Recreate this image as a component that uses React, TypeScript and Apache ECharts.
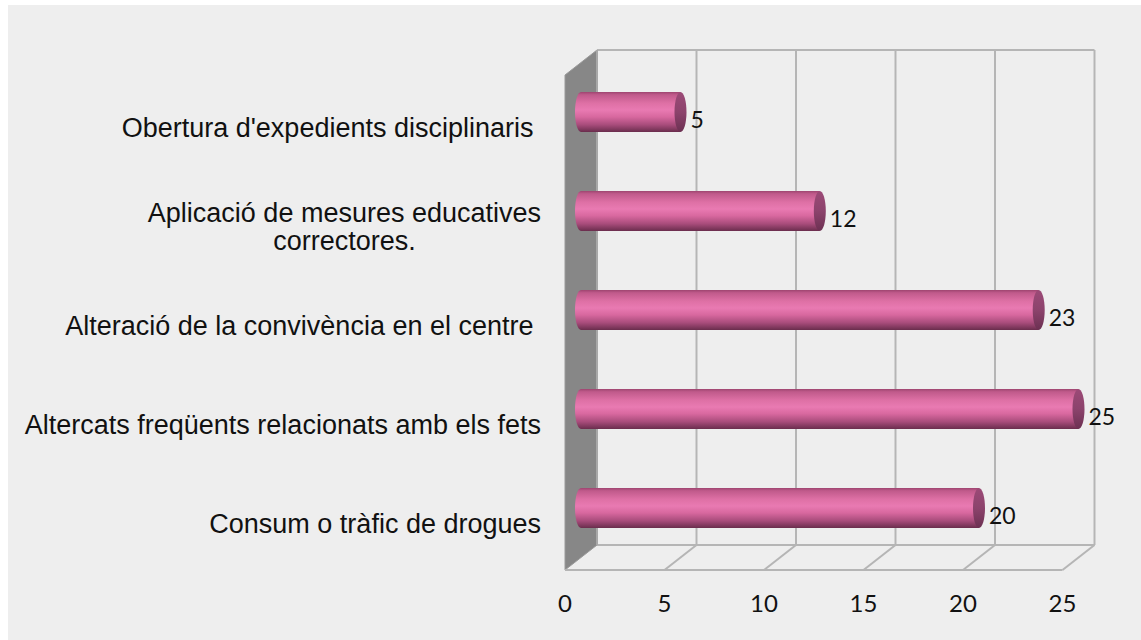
import React, { useEffect, useRef } from "react";
import * as echarts from "echarts";

const CATEGORIES = [
  "Obertura d'expedients disciplinaris ",
  "Aplicació de mesures educatives\ncorrectores.",
  "Alteració de la convivència en el centre ",
  "Altercats freqüents relacionats amb els fets",
  "Consum o tràfic de drogues",
];
const VALUES = [5, 12, 23, 25, 20];
const X_TICKS = [0, 5, 10, 15, 20, 25];

const DX = 16;
const DY = 12.5;
const GRID_COLOR = "#b5b5b5";

export default function App() {
  const ref = useRef<HTMLDivElement>(null);

  useEffect(() => {
    if (!ref.current) return;
    const chart = echarts.init(ref.current, null, { renderer: "svg" });

    const barGrad = () =>
      new echarts.graphic.LinearGradient(0, 0, 0, 1, [
        { offset: 0, color: "#9e4570" },
        { offset: 0.07, color: "#c05a8b" },
        { offset: 0.28, color: "#de70a5" },
        { offset: 0.45, color: "#e97ab2" },
        { offset: 0.62, color: "#d8689f" },
        { offset: 0.82, color: "#a84c7b" },
        { offset: 1, color: "#6a2d4d" },
      ]);
    const capGrad = () =>
      new echarts.graphic.LinearGradient(0, 0, 0, 1, [
        { offset: 0, color: "#9c4a77" },
        { offset: 0.5, color: "#8c436c" },
        { offset: 1, color: "#6c3052" },
      ]);

    const option: any = {
      animation: false,
      backgroundColor: "#eeeeee",
      grid: { left: 573, top: 57.5, width: 497.5, height: 495, containLabel: false },
      xAxis: {
        type: "value",
        min: 0,
        max: 25,
        interval: 5,
        axisLine: { show: false },
        axisTick: { show: false },
        splitLine: { show: false },
        axisLabel: {
          fontFamily: "Lato",
          fontSize: 24,
          color: "#111111",
          margin: 33,
          padding: [0, 32, 0, 0],
        },
      },
      yAxis: {
        type: "category",
        data: CATEGORIES,
        inverse: true,
        axisLine: { show: false },
        axisTick: { show: false },
        splitLine: { show: false },
        axisLabel: {
          margin: 40,
          fontFamily: "Liberation Sans",
          fontSize: 27,
          lineHeight: 28,
          color: "#111111",
          padding: [32, 0, 0, 0],
          formatter: (val: string) =>
            val.indexOf("\n") >= 0
              ? val
                  .split("\n")
                  .map((l) => `{c|${l}}`)
                  .join("\n")
              : val,
          rich: {
            c: {
              align: "center",
              fontFamily: "Liberation Sans",
              fontSize: 27,
              lineHeight: 28,
              color: "#111111",
            },
          },
        },
      },
      series: [
        {
          type: "custom",
          name: "frame",
          z: 1,
          silent: true,
          data: X_TICKS.map((t) => [t, 0]),
          encode: { x: 0, y: 1 },
          renderItem: (params: any, api: any) => {
            const cs = params.coordSys;
            const top = cs.y;
            const bottom = cs.y + cs.height;
            const x = api.coord([api.value(0), 0])[0];
            const lineStyle = { stroke: GRID_COLOR, lineWidth: 2 };
            const children: any[] = [];
            if (params.dataIndex === 0) {
              const xMax = api.coord([X_TICKS[X_TICKS.length - 1], 0])[0];
              children.push({
                type: "polygon",
                shape: {
                  points: [
                    [x - DX, top + DY],
                    [x + DX, top - DY],
                    [x + DX, bottom - DY],
                    [x - DX, bottom + DY],
                  ],
                },
                style: { fill: "#878787", stroke: "#9a9a9a", lineWidth: 1 },
              });
              children.push({
                type: "line",
                shape: { x1: x + DX, y1: top - DY, x2: xMax + DX, y2: top - DY },
                style: lineStyle,
              });
              children.push({
                type: "line",
                shape: { x1: x + DX, y1: bottom - DY, x2: xMax + DX, y2: bottom - DY },
                style: lineStyle,
              });
              children.push({
                type: "line",
                shape: { x1: x - DX, y1: bottom + DY, x2: xMax - DX, y2: bottom + DY },
                style: lineStyle,
              });
            }
            children.push({
              type: "line",
              shape: { x1: x + DX, y1: top - DY, x2: x + DX, y2: bottom - DY },
              style: { stroke: params.dataIndex === 0 ? "#a8a8a8" : GRID_COLOR, lineWidth: 2 },
            });
            if (params.dataIndex !== 0) {
              children.push({
                type: "line",
                shape: { x1: x + DX, y1: bottom - DY, x2: x - DX, y2: bottom + DY },
                style: lineStyle,
              });
            }
            return { type: "group", children };
          },
        },
        {
          type: "custom",
          name: "bars",
          z: 2,
          data: VALUES.map((v, i) => [v, i]),
          encode: { x: 0, y: 1 },
          renderItem: (params: any, api: any) => {
            const v = api.value(0);
            const idx = api.value(1);
            const s = api.coord([0, idx]);
            const e = api.coord([v, idx]);
            const h = 40;
            const rx = 6;
            const cy = s[1];
            return {
              type: "group",
              children: [
                {
                  type: "ellipse",
                  shape: { cx: s[0], cy, rx, ry: h / 2 },
                  style: { fill: barGrad() },
                },
                {
                  type: "rect",
                  shape: { x: s[0], y: cy - h / 2, width: e[0] - s[0], height: h },
                  style: { fill: barGrad() },
                },
                {
                  type: "ellipse",
                  shape: { cx: e[0], cy, rx, ry: h / 2 },
                  style: { fill: capGrad() },
                },
                {
                  type: "text",
                  x: e[0] + 10,
                  y: cy + 7,
                  style: {
                    text: String(v),
                    fontFamily: "Lato",
                    fontSize: 23,
                    fill: "#111111",
                    align: "left",
                    verticalAlign: "middle",
                  },
                },
              ],
            };
          },
        },
      ],
    };

    chart.setOption(option);
    return () => chart.dispose();
  }, []);

  return (
    <div
      style={{
        position: "absolute",
        left: 0,
        top: 0,
        width: 1141,
        height: 640,
        background: "#ffffff",
      }}
    >
      <div
        ref={ref}
        style={{ position: "absolute", left: 8, top: 5, width: 1133, height: 635 }}
      />
    </div>
  );
}
